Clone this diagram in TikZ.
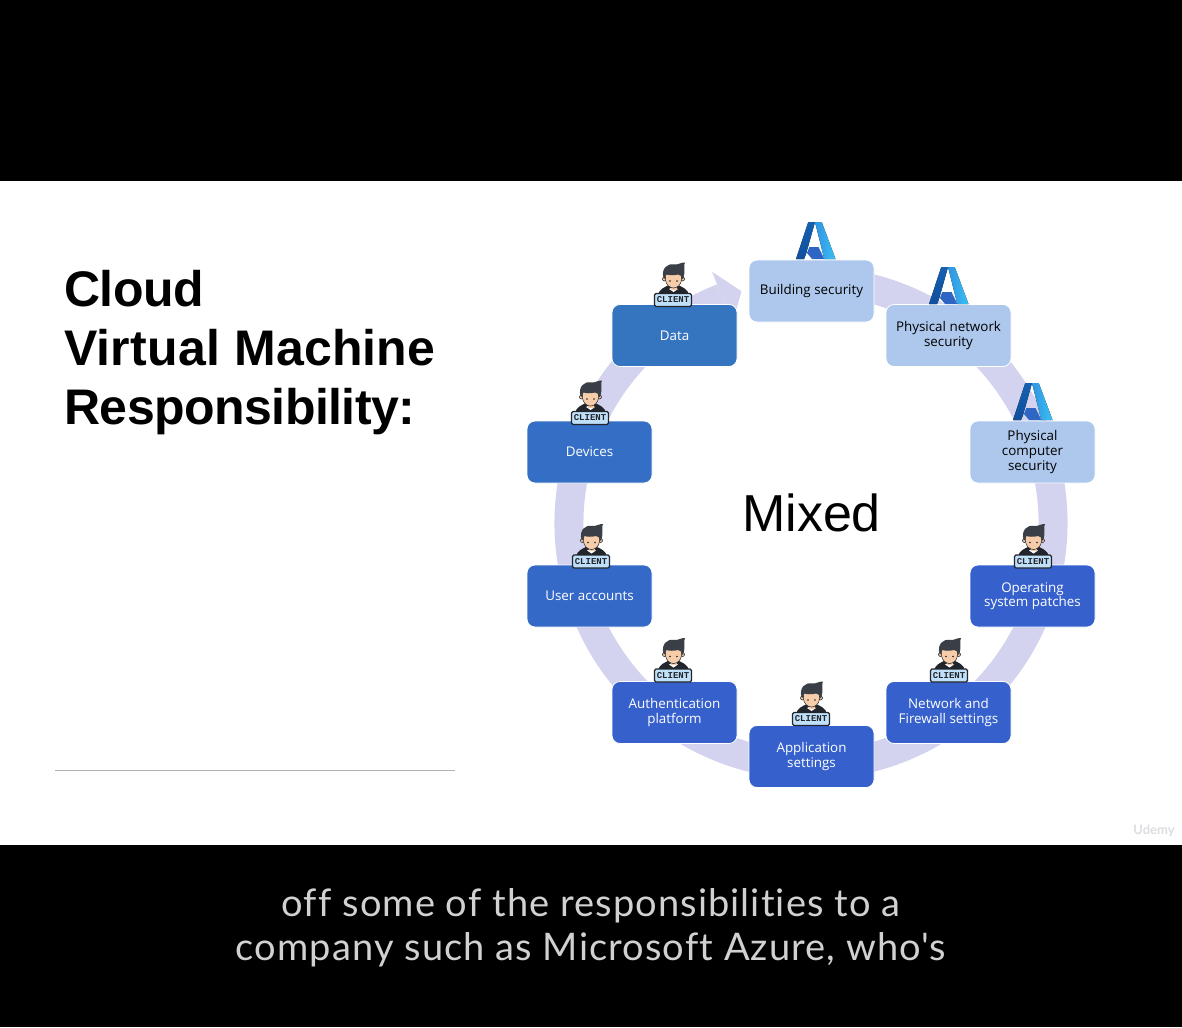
\documentclass[tikz,border=0pt]{standalone}
\usepackage{fontspec}
\setmainfont{Liberation Sans}
\setmonofont{Liberation Mono}
\newfontfamily\capfont[LetterSpace=2.9,RawFeature={-liga}]{Lato}
\newfontfamily\markfont{Lato}
\newfontfamily\boxfont{Open Sans}
\usetikzlibrary{calc}
\definecolor{bandc}{HTML}{D3D3F0}
\definecolor{lightb}{HTML}{ADC8EC}
\definecolor{c1}{HTML}{3575BF}
\definecolor{c2}{HTML}{346FC5}
\definecolor{c3}{HTML}{3569C8}
\definecolor{c4}{HTML}{3660CC}
\definecolor{inkc}{HTML}{22252B}
\definecolor{azA}{HTML}{0F4F9E}
\definecolor{azB}{HTML}{1560B0}
\definecolor{azC}{HTML}{2F93E4}
\definecolor{azD}{HTML}{3BC0F2}
\definecolor{azE}{HTML}{2F66C4}
\definecolor{faceC}{HTML}{F6CDA8}
\definecolor{hairC}{HTML}{3A3F47}
\definecolor{badgeC}{HTML}{BFE0F8}
\tikzset{
  tile/.style={rectangle,rounded corners=8pt,minimum width=125pt,minimum height=62pt,inner sep=0pt,draw=white,line width=0.8pt,align=center,font=\boxfont\fontsize{13.4}{14.6}\selectfont,execute at begin node={\vspace*{2pt}}},
  darktile/.style={tile,text=white},
  paletile/.style={tile,fill=lightb,text=black},
  badgeplate/.style={rectangle,rounded corners=1.5pt,draw=inkc,line width=1.2pt,fill=badgeC,minimum width=37pt,minimum height=13pt,inner sep=0pt,text=inkc,font=\ttfamily\fontsize{9}{9}\selectfont\bfseries},
  azurelogo/.pic={
    \fill[bottom color=azA,top color=azB] (-7.7,-38) -- (-1,-38) -- (-10,-6) -- (-12,-1) -- (-20,-1) -- cycle;
    \fill[left color=azC,right color=azD] (-1,-38) -- (5.7,-38) -- (19.5,-1) -- (8.3,-1) -- cycle;
    \fill[azE] (-6.7,-13) -- (2.5,-13) -- (8.3,-1) -- (-4,-1) -- (-9,-7) -- cycle;
  },
  clientpic/.pic={
    \fill[inkc] (-15,-5) .. controls (-14,-11) and (-8,-13) .. (-4,-15) -- (5,-15) .. controls (9,-13) and (15,-11) .. (16,-5) -- cycle;
    \fill[white] (-4,-11) -- (0.5,-8) -- (5,-11) -- (0.5,-13) -- cycle;
    \filldraw[fill=faceC,draw=inkc,line width=0.6pt] (-8.5,-21) circle[radius=2pt];
    \filldraw[fill=faceC,draw=inkc,line width=0.6pt] (9.5,-21) circle[radius=2pt];
    \fill[faceC] (-2.5,-14) rectangle (3.5,-10.5);
    \filldraw[fill=faceC,draw=inkc,line width=0.5pt] (-7.5,-27) -- (8.5,-27) -- (8.5,-20) .. controls (8,-15) and (4,-12) .. (0.5,-12) .. controls (-3,-12) and (-7,-15) .. (-7.5,-20) -- cycle;
    \fill[hairC] (-9.5,-22) .. controls (-12,-31) and (-6,-37) .. (1,-35.5) .. controls (5,-35) and (9,-38) .. (12,-37.5) .. controls (10,-35) and (13,-29) .. (10,-21) -- (8.7,-21) .. controls (8.5,-24) and (8,-25) .. (5,-25.5) .. controls (1,-24.5) and (-4,-24.5) .. (-6.5,-25.5) .. controls (-7.5,-25) and (-8,-23) .. (-8,-21) -- cycle;
    \fill[inkc] (-3,-19) circle[radius=0.9pt];
    \fill[inkc] (4,-19) circle[radius=0.9pt];
    \node[badgeplate] (plate) at (0,0) {CLIENT};
  },
}
\begin{document}
\begin{tikzpicture}[x=1pt,y=-1pt]
\useasboundingbox (0,0) rectangle (1182,1027);
\fill[black] (0,0) rectangle (1182,1027);
\fill[white] (0,181) rectangle (1182,845);
\coordinate (ringc) at (811,523);
% ring
\draw[bandc,line width=29pt] ($(ringc)+(77:242pt)$) arc[start angle=77,end angle=-248.5,radius=242pt];
\fill[bandc] ($(ringc)+(111.5:270pt)$) -- ($(ringc)+(106.7:242pt)$) -- ($(ringc)+(111.5:214pt)$) -- cycle;
% title
\node[anchor=north west,align=left,inner sep=0pt,font=\fontsize{50}{59}\selectfont\bfseries] (title) at (64,270) {{\addfontfeature{LetterSpace=-0.8}Cloud}\\{\addfontfeature{LetterSpace=0.4}Virtual Machine}\\{\addfontfeature{LetterSpace=-1.07}Responsibility:}};
\coordinate (ruleL) at (55,770.5);
\coordinate (ruleR) at (455,770.5);
\draw[gray!60,line width=1.2pt] (ruleL) -- (ruleR);
\node[font=\fontsize{52}{56}\selectfont,inner sep=0pt] (mixed) at (811.5,513) {Mixed};
% tiles
\node[paletile] (build) at (811.5,291) {Building security};
\node[paletile] (pnet) at (948.5,335.5) {Physical network\\security};
\node[paletile] (pcomp) at (1032.5,452) {Physical\\computer\\security};
\node[darktile,fill=c4] (os) at (1032.5,596) {Operating\\system patches};
\node[darktile,fill=c4] (netfw) at (948.5,712.5) {Network and\\Firewall settings};
\node[darktile,fill=c4] (app) at (811.5,756.5) {Application\\settings};
\node[darktile,fill=c4] (auth) at (674.5,712.5) {Authentication\\platform};
\node[darktile,fill=c3] (user) at (589.5,596) {User accounts};
\node[darktile,fill=c2] (dev) at (589.5,452) {Devices};
\node[darktile,fill=c1] (data) at (674.5,335.5) {Data};
% azure logos
\pic (az1) at (816,260) {azurelogo};
\pic (az2) at (949,305) {azurelogo};
\pic (az3) at (1033,421) {azurelogo};
% client icons
\pic (k1) at (673,300) {clientpic};
\pic (k2) at (590,418) {clientpic};
\pic (k3) at (591,561.5) {clientpic};
\pic (k4) at (673,675.5) {clientpic};
\pic (k5) at (811,719) {clientpic};
\pic (k6) at (949,675.5) {clientpic};
\pic (k7) at (1033,561.5) {clientpic};
% watermark
\node[text=blue!8!gray!25,font=\markfont\fontsize{13}{14}\selectfont\bfseries,inner sep=0pt] (wm) at (1154,831) {Udemy};
% caption
\node[anchor=base,inner sep=0pt,text=white!82!black,font=\capfont\fontsize{38}{44}\selectfont] (cap1) at (591,916) {off some of the responsibilities to a};
\node[anchor=base,inner sep=0pt,text=white!82!black,font=\capfont\fontsize{38}{44}\selectfont] (cap2) at (591,960) {company such as Microsoft Azure, who's};
\end{tikzpicture}
\end{document}
